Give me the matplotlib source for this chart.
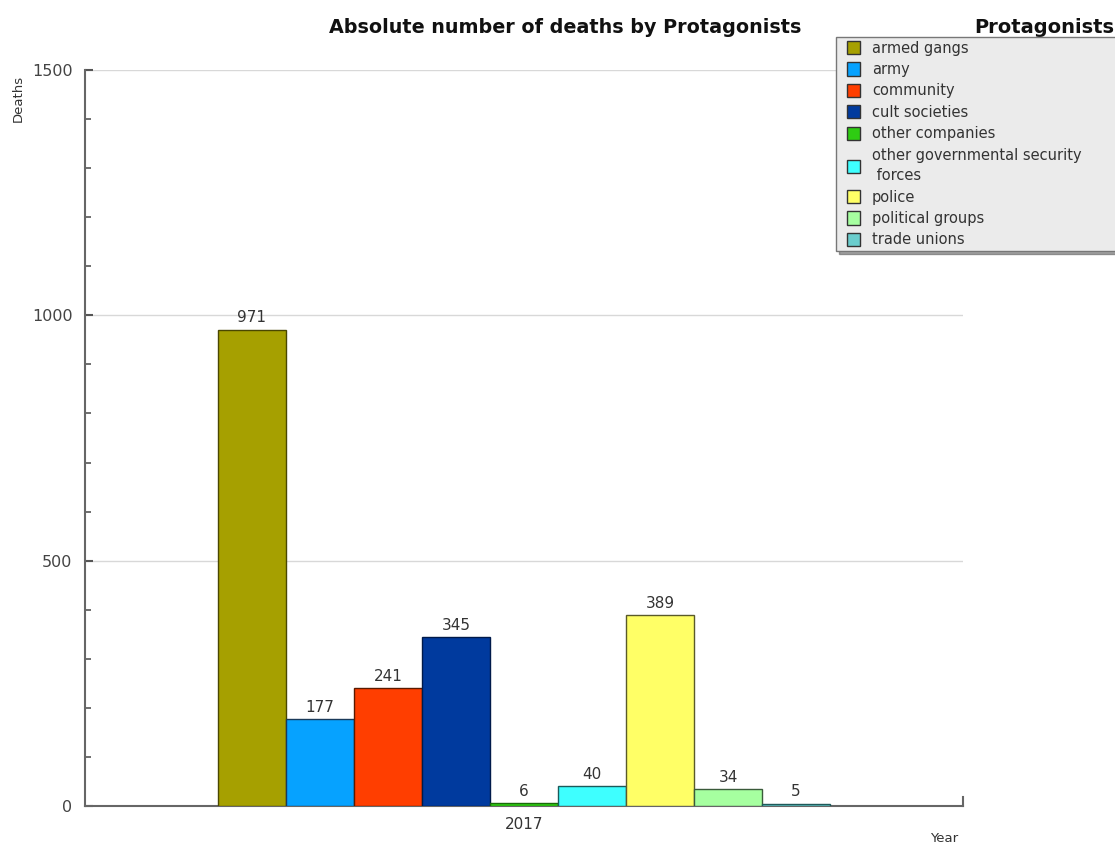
import matplotlib.pyplot as plt
from matplotlib.patches import Patch, Rectangle
from matplotlib.legend_handler import HandlerPatch
from matplotlib.ticker import MultipleLocator
import numpy as np

plt.rcParams['font.family'] = ['DejaVu Sans']

protagonists = ['armed gangs', 'army', 'community', 'cult societies', 'other companies',
                'other governmental security\n forces', 'police', 'political groups', 'trade unions']
deaths = [971, 177, 241, 345, 6, 40, 389, 34, 5]
year_labels = ['2017']
colors = ['#a6a000', '#06a2ff', '#ff3e00', '#003a9e', '#2ecc12',
          '#3effff', '#ffff66', '#a6ffa0', '#6acdcd']
edges = ['#4a4700', '#1a3a5a', '#5a1a00', '#001a4a', '#1a6a0a',
         '#1a5a5a', '#5a5a2a', '#3a5a3a', '#1e5a5a']

fig = plt.figure(figsize=(11.15, 8.47), dpi=100)
ax = fig.add_axes([0.0762, 0.0484, 0.7875, 0.869])

n = len(deaths)
xpos = np.arange(n) - (n - 1) / 2
ax.bar(xpos, deaths, width=1.0, color=colors, edgecolor=edges, linewidth=1.0, zorder=3)
for x, v in zip(xpos, deaths):
    ax.annotate(str(v), (x, v), xytext=(0, 3), textcoords='offset points',
                ha='center', va='bottom', fontsize=11, color='#333333')

ax.set_xlim(-6.456, 6.456)
ax.set_ylim(0, 1500)
ax.set_xticks([0])
ax.set_xticklabels(year_labels)
ax.yaxis.set_major_locator(MultipleLocator(500))
ax.yaxis.set_minor_locator(MultipleLocator(100))
ax.tick_params(axis='x', length=0, labelsize=11, labelcolor='#333333', pad=8)
ax.tick_params(axis='y', which='major', direction='in', length=6, width=1.5,
               color='#555555', labelsize=11.5, labelcolor='#444444', pad=9)
ax.tick_params(axis='y', which='minor', direction='in', length=4, width=1.2, color='#555555')
ax.grid(axis='y', which='major', color='#d8d8d8', linewidth=1.0, zorder=0)
for s in ['top', 'right']:
    ax.spines[s].set_visible(False)
for s in ['left', 'bottom']:
    ax.spines[s].set_color('#666666')
    ax.spines[s].set_linewidth(1.5)
ax.plot([1, 1], [0, 0.012], transform=ax.transAxes, color='#666666', lw=1.5, clip_on=False)

fig.text(0.507, 0.967, 'Absolute number of deaths by Protagonists', ha='center', va='center',
         fontsize=13.8, fontweight='bold', color='#111111')
fig.text(0.016, 0.884, 'Deaths', rotation=90, ha='center', va='center', fontsize=9.5, color='#333333')
fig.text(0.8466, 0.002, 'Year', ha='center', va='bottom', fontsize=9.5, color='#333333')


def square(legend, orig_handle, xdescent, ydescent, width, height, fontsize):
    s = 0.9 * fontsize
    return Rectangle((-xdescent + width - s, -ydescent + (height - s) / 2), s, s)


handles = [Patch(facecolor=c, edgecolor='#333333', linewidth=1.0) for c in colors]
leg = fig.legend(handles, protagonists, loc='upper left',
                 bbox_to_anchor=(0.7498, 0.70, 0.27, 0.2563), mode='expand',
                 fontsize=10.5, frameon=True, fancybox=False, shadow=True,
                 handlelength=1.4, handleheight=0.9, handletextpad=0.8,
                 labelspacing=0.44, borderpad=0.25, borderaxespad=0,
                 handler_map={Patch: HandlerPatch(patch_func=square)})
leg.get_frame().set_facecolor('#ebebeb')
leg.get_frame().set_edgecolor('#777777')
leg.get_frame().set_alpha(1)
for t in leg.get_texts():
    t.set_color('#333333')
    t.set_linespacing(1.45)
fig.text(0.874, 0.967, 'Protagonists', ha='left', va='center', fontsize=14,
         fontweight='bold', color='#111111')
fig.add_artist(plt.Line2D([0.874, 1.0], [0.955, 0.955], color='#111111', lw=1.2))

fig.savefig('out.png', dpi=100, facecolor='white')
